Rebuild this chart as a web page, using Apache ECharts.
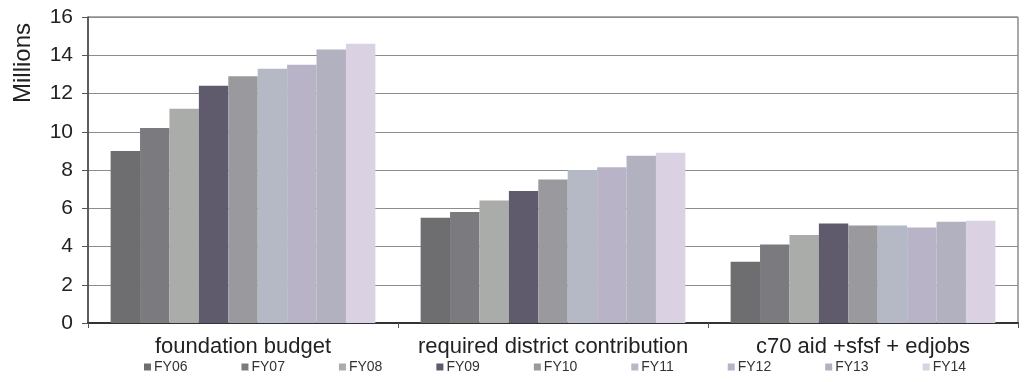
<!DOCTYPE html>
<html>
<head>
<meta charset="utf-8">
<script src="https://cdn.jsdelivr.net/npm/echarts@6/dist/echarts.min.js"></script>
<style>
  html, body { margin: 0; padding: 0; background: #fff; }
  #chart { width: 1029px; height: 382px; }
</style>
</head>
<body>
<div id="chart"></div>
<script>
// Funding components by fiscal year, in millions of dollars
const categories = ['foundation budget', 'required district contribution', 'c70 aid +sfsf + edjobs'];
const years = ['FY06', 'FY07', 'FY08', 'FY09', 'FY10', 'FY11', 'FY12', 'FY13', 'FY14'];
const fy06 = [9.0, 5.5, 3.2];
const fy07 = [10.2, 5.8, 4.1];
const fy08 = [11.2, 6.4, 4.6];
const fy09 = [12.4, 6.9, 5.2];
const fy10 = [12.9, 7.5, 5.1];
const fy11 = [13.3, 8.0, 5.1];
const fy12 = [13.5, 8.15, 5.0];
const fy13 = [14.3, 8.75, 5.3];
const fy14 = [14.6, 8.9, 5.35];
const yTicks = [0, 2, 4, 6, 8, 10, 12, 14, 16];

const seriesValues = [fy06, fy07, fy08, fy09, fy10, fy11, fy12, fy13, fy14];
const colors = ['#6e6e70', '#7b7a7e', '#a9aca8', '#5f5a6c', '#9a9a9e', '#b5b9c6', '#b9b3c8', '#b2b1c0', '#dad1e3'];

const chart = echarts.init(document.getElementById('chart'));
const font = "'Liberation Sans', Arial, sans-serif";

chart.setOption({
  animation: false,
  backgroundColor: '#fff',
  textStyle: { fontFamily: font },
  grid: { left: 88, right: 11, top: 17, bottom: 59, show: true, borderColor: '#555', borderWidth: 1 },
  graphic: [{
    type: 'text',
    x: 23,
    y: 63,
    rotation: Math.PI / 2,
    style: {
      text: 'Millions',
      fontSize: 24,
      fontFamily: font,
      fill: '#222',
      align: 'center',
      verticalAlign: 'middle'
    }
  }],
  legend: {
    left: 139,
    top: 355,
    itemWidth: 7,
    itemHeight: 7,
    itemGap: 54,
    icon: 'rect',
    textStyle: { fontSize: 14, color: '#333', fontFamily: font, padding: [0, 0, 0, -2] },
    data: years
  },
  xAxis: {
    type: 'category',
    data: categories,
    axisLine: { lineStyle: { color: '#333', width: 2 } },
    axisTick: { show: true, length: 5, lineStyle: { color: '#555' } },
    axisLabel: { interval: 0, hideOverlap: false, fontSize: 22, color: '#222', margin: 13, fontFamily: font }
  },
  yAxis: {
    type: 'value',
    min: yTicks[0],
    max: yTicks[yTicks.length - 1],
    interval: 2,
    axisLine: { show: true, lineStyle: { color: '#444', width: 1.5 } },
    axisTick: { show: true, length: 6, lineStyle: { color: '#555' } },
    axisLabel: { fontSize: 21, color: '#222', margin: 15, fontFamily: font },
    splitLine: { lineStyle: { color: '#8c8c8c', width: 1 } }
  },
  series: years.map((y, i) => ({
    name: y,
    type: 'bar',
    data: seriesValues[i],
    barGap: '0%',
    barCategoryGap: '14.6%',
    itemStyle: { color: colors[i] }
  }))
});
</script>
</body>
</html>
